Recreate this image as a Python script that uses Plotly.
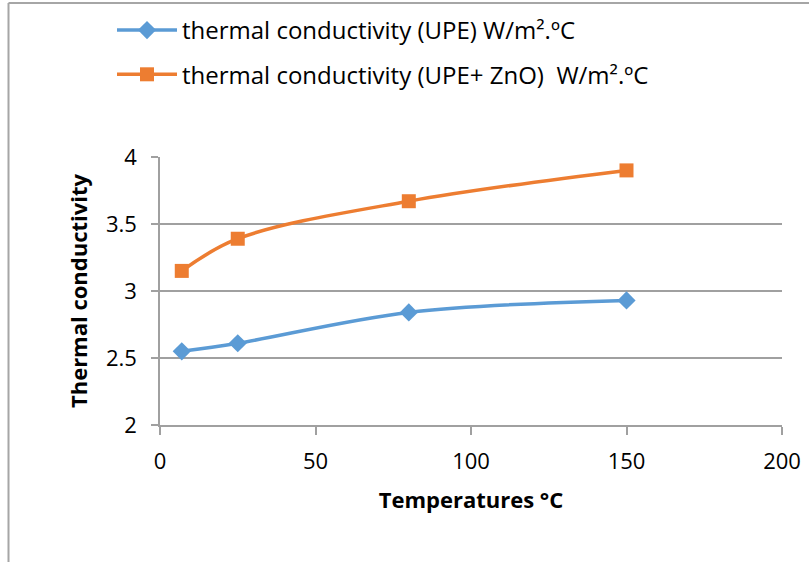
import plotly.graph_objects as go

temps = [7, 25, 80, 150]
k_upe = [2.55, 2.61, 2.84, 2.93]
k_upe_zno = [3.15, 3.39, 3.67, 3.90]
name_upe = "thermal conductivity (UPE) W/m².ºC"
name_zno = "thermal conductivity (UPE+ ZnO)  W/m².ºC"
x_ticks = [0, 50, 100, 150, 200]
y_ticks = [2, 2.5, 3, 3.5, 4]

W, H = 809, 562
L, R, T, B = 160, 27, 157, 137
pw, ph = W - L - R, H - T - B

def px(xp):
    return (xp - L) / pw

def py(yp):
    return (H - B - yp) / ph

font_family = "Open Sans, Noto Sans, sans-serif"

fig = go.Figure()
fig.add_trace(go.Scatter(
    x=temps, y=k_upe, name=name_upe, mode="lines+markers",
    line=dict(color="#5B9BD5", width=3.5, shape="spline"),
    marker=dict(symbol="diamond", size=14, color="#5B9BD5"),
    legendgroup="a",
))
fig.add_trace(go.Scatter(
    x=temps, y=k_upe_zno, name=name_zno, mode="lines+markers",
    line=dict(color="#ED7D31", width=3.5, shape="spline"),
    marker=dict(symbol="square", size=14, color="#ED7D31"),
    legendgroup="b",
))

gray = "#A0A0A0"
fig.update_layout(
    width=W, height=H,
    margin=dict(l=L, r=R, t=T, b=B, autoexpand=False),
    paper_bgcolor="white", plot_bgcolor="white",
    font=dict(family=font_family, size=22, color="black"),
    showlegend=True,
    legend=dict(
        x=px(112), y=py(8), xanchor="left", yanchor="top",
        font=dict(size=24, color="black"),
        tracegroupgap=10, bgcolor="rgba(0,0,0,0)",
        itemwidth=60,
    ),
    xaxis=dict(
        range=[0, 200], tickvals=x_ticks, ticktext=[str(v) for v in x_ticks],
        showgrid=False, zeroline=False, automargin=False,
        showline=True, linecolor=gray, linewidth=1.5,
        ticks="outside", ticklen=8, tickcolor=gray, tickwidth=1.5,
        tickfont=dict(size=22), ticklabelstandoff=8,
        title=dict(text="<b>Temperatures °C</b>", font=dict(size=22), standoff=18),
    ),
    yaxis=dict(
        range=[2, 4], tickvals=y_ticks, ticktext=["2", "2.5", "3", "3.5", "4"],
        showgrid=True, gridcolor=gray, gridwidth=1.5, zeroline=False, automargin=False,
        showline=True, linecolor=gray, linewidth=1.5,
        ticks="outside", ticklen=7, tickcolor=gray, tickwidth=1.5,
        tickfont=dict(size=22), ticklabelstandoff=10,
        title=dict(text="<b>Thermal conductivity</b>", font=dict(size=22), standoff=12),
    ),
    shapes=[
        dict(type="line", xref="paper", yref="paper",
             x0=px(8.5), x1=px(809), y0=py(3), y1=py(3),
             line=dict(color="#A6A6A6", width=2)),
        dict(type="line", xref="paper", yref="paper",
             x0=px(8.5), x1=px(8.5), y0=py(3), y1=py(562),
             line=dict(color="#A6A6A6", width=2)),
    ],
)

fig.write_html("out.html")
